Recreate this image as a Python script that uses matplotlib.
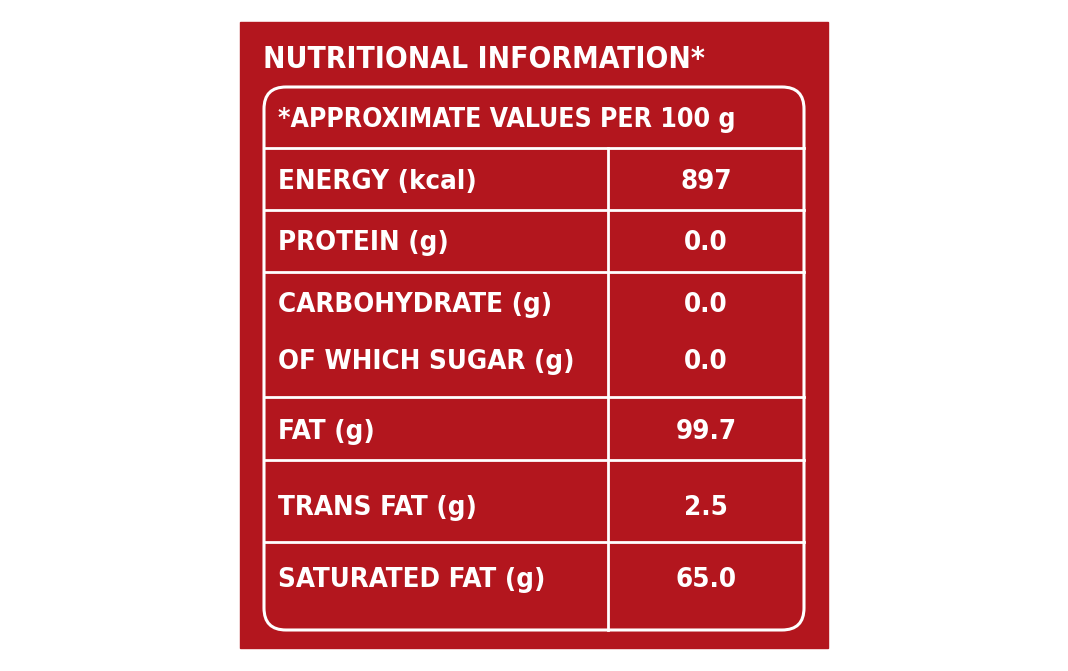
import matplotlib
matplotlib.use("Agg")
import matplotlib.pyplot as plt
from matplotlib.patches import Rectangle, FancyBboxPatch

title = "NUTRITIONAL INFORMATION*"
header = "*APPROXIMATE VALUES PER 100 g"
labels = ["ENERGY (kcal)", "PROTEIN (g)", "CARBOHYDRATE (g)", "OF WHICH SUGAR (g)",
          "FAT (g)", "TRANS FAT (g)", "SATURATED FAT (g)"]
values = ["897", "0.0", "0.0", "0.0", "99.7", "2.5", "65.0"]
label_y = [182, 243, 305, 362, 432, 508, 580]

RED = "#B3161E"
kw = dict(color="white", fontweight="bold", family="DejaVu Sans", fontstretch="condensed", va="center")

fig = plt.figure(figsize=(10.68, 6.71), dpi=100)
ax = fig.add_axes([0, 0, 1, 1])
ax.set_xlim(0, 1068); ax.set_ylim(671, 0); ax.axis("off")
ax.add_patch(Rectangle((240, 22), 588, 626, color=RED))
ax.add_patch(FancyBboxPatch((264, 87), 540, 543, boxstyle="round,pad=0,rounding_size=22",
                            fill=False, ec="white", lw=2.2))
for y in [148, 210, 272, 397, 460, 542]:
    ax.plot([264, 804], [y, y], color="white", lw=2)
ax.plot([608, 608], [148, 630], color="white", lw=2)

fig.canvas.draw()
r = fig.canvas.get_renderer()

def fit(t, target):
    w = t.get_window_extent(r).width
    if w > target:
        t.set_fontsize(t.get_fontsize() * target / w)

fit(ax.text(263, 60, title, fontsize=24, **kw), 442)
fit(ax.text(278, 120, header, fontsize=20, **kw), 457)
lt = [ax.text(278, y, lab, fontsize=26, **kw) for lab, y in zip(labels, label_y)]
w = lt[2].get_window_extent(r).width
s = min(1.0, 274 / w)
for t in lt:
    t.set_fontsize(t.get_fontsize() * s)
for val, y in zip(values, label_y):
    ax.text(706, y, val, fontsize=26 * s, ha="center", **{k: v for k, v in kw.items()})
fig.savefig("out.png", dpi=100, facecolor="white")
